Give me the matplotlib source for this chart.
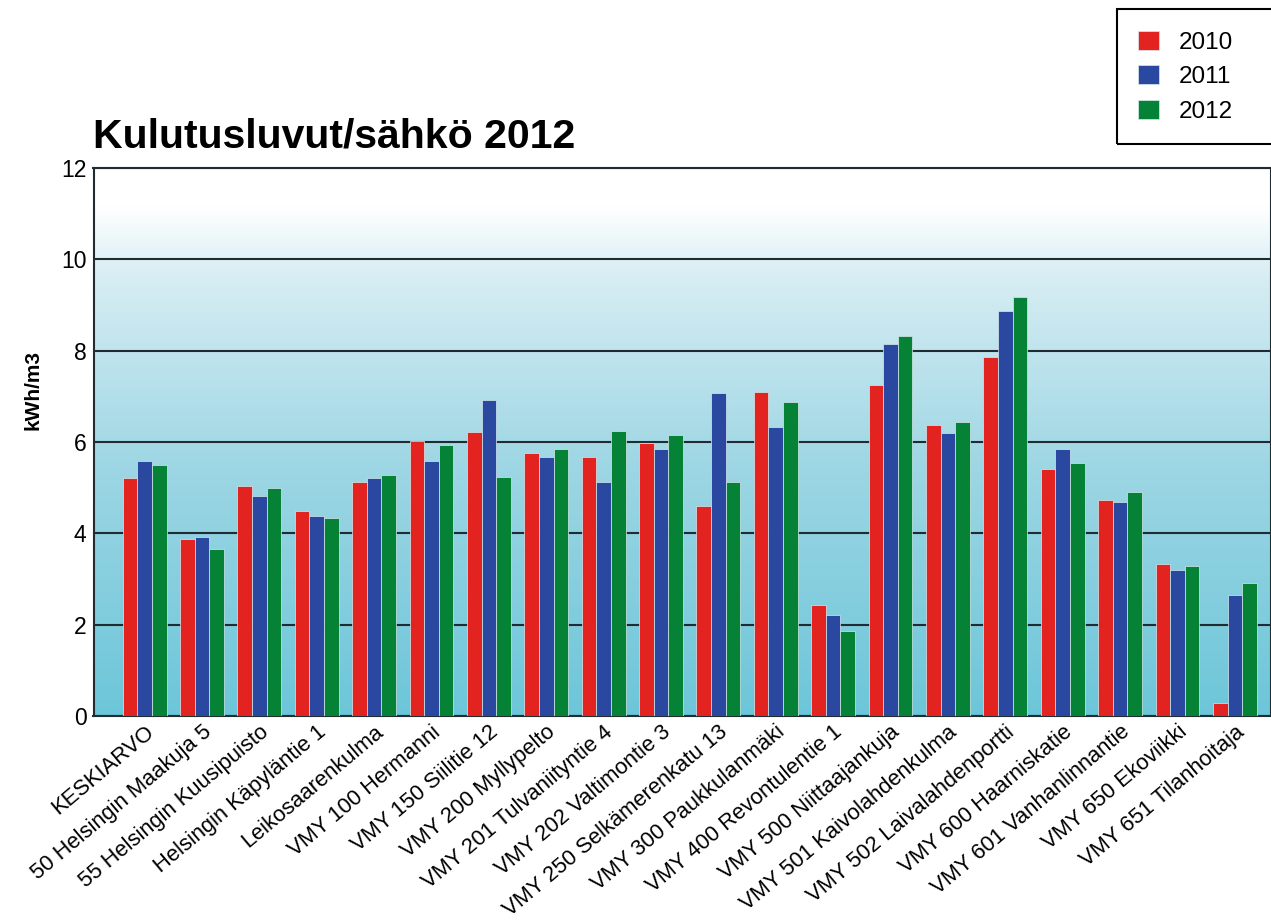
import numpy as np
import matplotlib
matplotlib.use("Agg")
import matplotlib.pyplot as plt
from matplotlib.colors import LinearSegmentedColormap
from matplotlib.patches import Rectangle

plt.rcParams["font.family"] = ["Liberation Sans", "DejaVu Sans"]

# --------------------------------------------------------------------------- #
# data
# --------------------------------------------------------------------------- #
sites = [
    "KESKIARVO",
    "50 Helsingin Maakuja 5",
    "55 Helsingin Kuusipuisto",
    "Helsingin Käpyläntie 1",
    "Leikosaarenkulma",
    "VMY 100 Hermanni",
    "VMY 150 Siilitie 12",
    "VMY 200 Myllypelto",
    "VMY 201 Tulvaniityntie 4",
    "VMY 202 Valtimontie 3",
    "VMY 250 Selkämerenkatu 13",
    "VMY 300 Paukkulanmäki",
    "VMY 400 Revontulentie 1",
    "VMY 500 Niittaajankuja",
    "VMY 501 Kaivolahdenkulma",
    "VMY 502 Laivalahdenportti",
    "VMY 600 Haarniskatie",
    "VMY 601 Vanhanlinnantie",
    "VMY 650 Ekoviikki",
    "VMY 651 Tilanhoitaja",
]
years = ["2010", "2011", "2012"]
kwh_2010 = [5.22, 3.87, 5.04, 4.50, 5.12, 6.03, 6.22, 5.75, 5.67, 5.98,
            4.60, 7.10, 2.43, 7.24, 6.38, 7.87, 5.40, 4.72, 3.33, 0.28]
kwh_2011 = [5.58, 3.92, 4.82, 4.37, 5.22, 5.58, 6.92, 5.67, 5.13, 5.85,
            7.07, 6.33, 2.21, 8.15, 6.20, 8.87, 5.85, 4.68, 3.20, 2.66]
kwh_2012 = [5.50, 3.65, 4.99, 4.33, 5.27, 5.94, 5.23, 5.85, 6.25, 6.16,
            5.12, 6.88, 1.86, 8.32, 6.43, 9.18, 5.53, 4.91, 3.28, 2.92]
y_ticks = [0, 2, 4, 6, 8, 10, 12]

colors = ["#e3231f", "#2a48a0", "#068236"]

# --------------------------------------------------------------------------- #
fig = plt.figure(figsize=(12.71, 9.24), dpi=100)
ax = fig.add_axes([93.5 / 1271, 1 - 716 / 924, 1 - 93.5 / 1271, (716 - 168) / 924])

# background gradient (light blue at the bottom fading to white at the top)
bg = LinearSegmentedColormap.from_list(
    "bg", [(0.0, "#6cc6d9"), (0.45, "#9dd6e4"), (0.8, "#d6edf3"),
           (0.93, "#ffffff"), (1.0, "#ffffff")])
grad = np.linspace(0, 1, 256).reshape(-1, 1)
ax.imshow(grad, cmap=bg, origin="lower", aspect="auto",
          extent=(0, 1, 0, 1), transform=ax.transAxes, zorder=0)

x = np.arange(len(sites))
w = 0.255
for j, (vals, c, lab) in enumerate(zip([kwh_2010, kwh_2011, kwh_2012], colors, years)):
    ax.bar(x + (j - 1) * w, vals, w, color=c, label=lab,
           edgecolor="#d8eaf0", linewidth=0.5, zorder=3)

ax.set_xlim(-0.89, 19.63)
ax.set_ylim(0, 12)
ax.set_yticks(y_ticks)
ax.set_yticklabels([str(t) for t in y_ticks], fontsize=16.5)
ax.yaxis.grid(True, color="#1f2d33", linewidth=1.5, zorder=1)
ax.set_axisbelow(True)
ax.tick_params(axis="both", length=0)
ax.tick_params(axis="y", pad=5)
ax.set_xticks(x)
ax.set_xticklabels(sites, fontsize=15.8, rotation=40, ha="right", va="top",
                   rotation_mode="anchor")
ax.tick_params(axis="x", pad=4)
for s in ax.spines.values():
    s.set_color("#1f2d33")
    s.set_linewidth(1.5)

fig.text(93 / 1271, 1 - 147 / 924, "Kulutusluvut/sähkö 2012",
         fontsize=29.5, fontweight="bold", va="baseline", ha="left")
fig.text(33 / 1271, 1 - 390 / 924, "kWh/m3", fontsize=15, fontweight="bold",
         rotation=90, ha="center", va="center")

# legend without its own frame; the box runs off the right edge like the original
leg = fig.legend(loc="upper left", bbox_to_anchor=(1117 / 1271, 1 - 10 / 924),
                 fontsize=17.5, frameon=False, handlelength=0.86,
                 handleheight=0.82, handletextpad=0.82, labelspacing=0.48,
                 borderpad=0.85, borderaxespad=0)
fig.patches.append(Rectangle((1117 / 1271, 1 - 144 / 924), 0.2, 135 / 924,
                             transform=fig.transFigure, fill=False,
                             edgecolor="black", linewidth=1.5))

fig.savefig("out.png", dpi=100)
